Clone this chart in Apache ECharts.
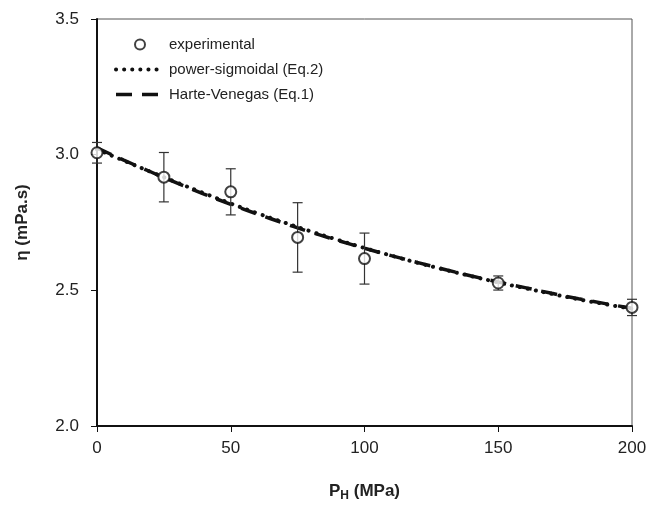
<!DOCTYPE html>
<html>
<head>
<meta charset="utf-8">
<script src="https://cdn.jsdelivr.net/npm/echarts@6/dist/echarts.min.js"></script>
<style>
html, body { margin: 0; padding: 0; background: #fff; }
#chart { width: 651px; height: 507px; }
</style>
</head>
<body>
<div id="chart"></div>
<script>
// measured points
var pressure = [0, 25, 50, 75, 100, 150, 200];
var viscosity = [3.007, 2.917, 2.863, 2.695, 2.617, 2.527, 2.437];
var viscosityErr = [0.038, 0.091, 0.085, 0.128, 0.094, 0.026, 0.030];

// model curves
var curveX = [0, 10, 20, 30, 40, 50, 60, 70, 80, 90, 100, 110, 120, 130, 140, 150, 160, 170, 180, 190, 200];
var powerSigmoidal = [3.020, 2.978, 2.937, 2.897, 2.858, 2.820, 2.784, 2.750, 2.717, 2.686, 2.656, 2.628, 2.601, 2.576, 2.552, 2.529, 2.508, 2.487, 2.467, 2.449, 2.432];
var harteVenegas = [3.025, 2.980, 2.937, 2.895, 2.855, 2.817, 2.781, 2.747, 2.714, 2.684, 2.655, 2.628, 2.602, 2.577, 2.553, 2.531, 2.510, 2.489, 2.469, 2.451, 2.434];

var yTicks = [2.0, 2.5, 3.0, 3.5];

function pairs(xs, ys) {
    var out = [];
    for (var i = 0; i < xs.length; i++) {
        out.push([xs[i], ys[i]]);
    }
    return out;
}

var errData = [];
for (var i = 0; i < pressure.length; i++) {
    errData.push([pressure[i], viscosity[i] - viscosityErr[i], viscosity[i] + viscosityErr[i]]);
}

var chart = echarts.init(document.getElementById('chart'));
var font = 'Liberation Sans, Arial, sans-serif';
var dotStyle = { color: '#111', width: 4, type: [0.1, 8], cap: 'round' };
var dashStyle = { color: '#111', width: 3.5, type: [16, 10] };
var noMark = { opacity: 0 };

var option = {
    animation: false,
    textStyle: { fontFamily: font },
    grid: {
        left: 97, right: 19, top: 19, bottom: 71,
        show: true, borderColor: '#555', borderWidth: 1
    },
    legend: {
        orient: 'vertical',
        left: 109, top: 32,
        itemWidth: 48, itemHeight: 10, itemGap: 10,
        textStyle: { fontFamily: font, fontSize: 15, color: '#222' },
        data: [
            { name: 'experimental', icon: 'circle', itemStyle: { color: '#fff', borderColor: '#111', borderWidth: 2 } },
            { name: 'power-sigmoidal (Eq.2)', itemStyle: noMark, lineStyle: dotStyle },
            { name: 'Harte-Venegas (Eq.1)', itemStyle: noMark, lineStyle: dashStyle }
        ]
    },
    xAxis: {
        type: 'value', min: 0, max: 200, interval: 50,
        name: '{b|P}{s|H}{b| (MPa)}',
        nameLocation: 'middle', nameGap: 54,
        nameTextStyle: {
            rich: {
                b: { fontFamily: font, fontSize: 17, fontWeight: 'bold', color: '#222' },
                s: { fontFamily: font, fontSize: 12, fontWeight: 'bold', color: '#222', padding: [10, 0, 0, 0] }
            }
        },
        axisLine: { lineStyle: { color: '#111', width: 2 } },
        axisTick: { show: true, inside: false, length: 6, lineStyle: { color: '#111', width: 1 } },
        axisLabel: { fontSize: 17, color: '#222', margin: 14 },
        splitLine: { show: false }
    },
    yAxis: {
        type: 'value', min: yTicks[0], max: yTicks[yTicks.length - 1], interval: 0.5,
        name: 'η (mPa.s)',
        nameLocation: 'middle', nameGap: 66,
        nameTextStyle: { fontFamily: font, fontSize: 17, fontWeight: 'bold', color: '#222' },
        axisLine: { show: true, lineStyle: { color: '#111', width: 2 } },
        axisTick: { show: true, inside: false, length: 6, lineStyle: { color: '#111', width: 1 } },
        axisLabel: {
            fontSize: 17, color: '#222', margin: 18,
            formatter: function (v) { return v.toFixed(1); }
        },
        splitLine: { show: false }
    },
    series: [
        {
            name: 'power-sigmoidal (Eq.2)',
            type: 'line',
            data: pairs(curveX, powerSigmoidal),
            symbol: 'none',
            smooth: true,
            lineStyle: dotStyle,
            itemStyle: { color: '#111' },
            z: 3
        },
        {
            name: 'Harte-Venegas (Eq.1)',
            type: 'line',
            data: pairs(curveX, harteVenegas),
            symbol: 'none',
            smooth: true,
            lineStyle: dashStyle,
            itemStyle: { color: '#111' },
            z: 3
        },
        {
            name: 'error',
            type: 'custom',
            data: errData,
            z: 4,
            renderItem: function (params, api) {
                var x = api.value(0);
                var lo = api.coord([x, api.value(1)]);
                var hi = api.coord([x, api.value(2)]);
                var w = 5;
                var st = { stroke: '#333', lineWidth: 1.2 };
                return {
                    type: 'group',
                    children: [
                        { type: 'line', shape: { x1: hi[0], y1: hi[1], x2: lo[0], y2: lo[1] }, style: st },
                        { type: 'line', shape: { x1: hi[0] - w, y1: hi[1], x2: hi[0] + w, y2: hi[1] }, style: st },
                        { type: 'line', shape: { x1: lo[0] - w, y1: lo[1], x2: lo[0] + w, y2: lo[1] }, style: st }
                    ]
                };
            }
        },
        {
            name: 'experimental',
            type: 'scatter',
            data: pairs(pressure, viscosity),
            symbol: 'circle',
            symbolSize: 11,
            itemStyle: { color: '#fff', borderColor: '#111', borderWidth: 2 },
            z: 5
        }
    ]
};
chart.setOption(option);
</script>
</body>
</html>
